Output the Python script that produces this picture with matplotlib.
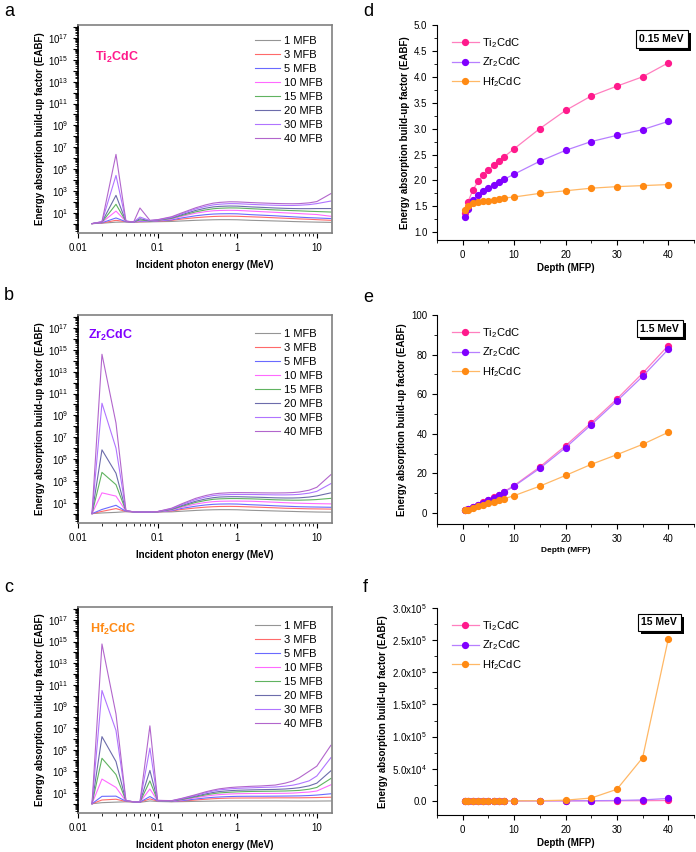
import numpy as np
import matplotlib
matplotlib.use("Agg")
import matplotlib.pyplot as plt
from matplotlib import ticker, patheffects

plt.rcParams['font.family'] = ['Liberation Sans', 'DejaVu Sans']
plt.rcParams['mathtext.fontset'] = 'custom'
plt.rcParams['mathtext.rm'] = 'Liberation Sans'
plt.rcParams['mathtext.bf'] = 'Liberation Sans:bold'
plt.rcParams['mathtext.default'] = 'regular'

# ---- left panels: EABF vs energy for each depth ----
energy = [0.015, 0.02, 0.03, 0.04, 0.05, 0.06, 0.08, 0.1, 0.15, 0.2, 0.3, 0.4, 0.5,
          0.6, 0.8, 1, 1.5, 2, 3, 4, 5, 6, 8, 10, 15]
depth_labels = ['1 MFB', '3 MFB', '5 MFB', '10 MFB', '15 MFB', '20 MFB', '30 MFB', '40 MFB']
depth_colors = ['#959595', '#ff6a6a', '#6a6aff', '#ff6aff', '#60b360', '#6c6cab', '#b074ff', '#b266cc']

ti_eabf = [
    [1.0, 1.1, 1.35, 1.4, 1.35, 1.4, 1.45, 1.5, 1.58, 1.75, 2.0, 2.15, 2.25, 2.3, 2.3, 2.25, 2.0, 1.9, 1.75, 1.65, 1.55, 1.5, 1.42, 1.37, 1.3],
    [1.0, 1.15, 2.0, 1.5, 1.4, 1.5, 1.55, 1.65, 1.98, 2.6, 3.5, 4.1, 4.5, 4.7, 4.8, 4.7, 4.2, 3.9, 3.4, 3.1, 2.9, 2.7, 2.5, 2.3, 2.0],
    [1.0, 1.2, 3.3, 1.5, 1.4, 1.6, 1.6, 1.75, 2.2, 3.3, 5.2, 6.6, 7.5, 7.9, 8.1, 7.9, 6.6, 6.0, 5.2, 4.6, 4.2, 3.9, 3.5, 3.3, 2.9],
    [1.0, 1.3, 14, 1.6, 1.4, 1.8, 1.7, 1.9, 2.61, 4.6, 9.0, 12.5, 15, 16, 16.6, 16.2, 13.9, 12.5, 10.8, 9.7, 8.9, 8.3, 7.4, 6.8, 4.7],
    [1.0, 1.35, 59, 1.6, 1.4, 2.2, 1.7, 2.0, 3.0, 5.5, 12, 18, 23, 25.5, 27.5, 27, 23.3, 21, 18, 16.5, 15.5, 14.8, 13.5, 12.8, 11.5],
    [1.0, 1.4, 390, 1.6, 1.4, 2.8, 1.8, 2.1, 3.35, 6.5, 16, 26, 34, 38, 41, 40, 34, 31, 27, 25, 24, 23.5, 23.5, 24, 24],
    [1.0, 1.5, 2.6e4, 1.7, 1.4, 4.0, 1.9, 2.2, 3.82, 8.0, 22, 38, 52, 60, 68, 67, 57.6, 53, 48, 46, 46, 48, 55, 68, 117],
    [1.0, 1.5, 2.2e6, 1.7, 1.4, 27, 2.0, 2.3, 4.27, 9.5, 28, 52, 75, 88, 100, 98, 84.6, 78, 70, 67, 66, 68, 80, 105, 560],
]

zr_eabf = [
    [1.0, 1.15, 1.3, 1.5, 1.45, 1.4, 1.38, 1.4, 1.45, 1.65, 1.95, 2.15, 2.25, 2.3, 2.3, 2.25, 2.0, 1.9, 1.75, 1.65, 1.58, 1.52, 1.45, 1.4, 1.35],
    [1.0, 1.6, 2.9, 1.55, 1.45, 1.4, 1.4, 1.45, 1.72, 2.4, 3.3, 3.9, 4.3, 4.5, 4.6, 4.5, 4.1, 3.8, 3.4, 3.1, 3.0, 2.9, 2.75, 2.7, 2.6],
    [1.0, 2.4, 5.8, 1.6, 1.45, 1.4, 1.4, 1.45, 1.86, 3.0, 4.8, 6.2, 7.1, 7.5, 7.7, 7.5, 6.5, 6.0, 5.2, 4.8, 4.5, 4.3, 4.1, 4.0, 3.8],
    [1.0, 80, 40, 1.7, 1.45, 1.4, 1.4, 1.45, 2.12, 3.8, 7.5, 10.5, 12.5, 13.5, 14, 14, 13.6, 12.5, 11, 10, 9.4, 9.0, 8.5, 8.2, 7.8],
    [1.0, 6e3, 450, 1.75, 1.45, 1.4, 1.4, 1.5, 2.37, 4.6, 10.5, 16, 20.5, 22.5, 24, 24, 22.6, 21, 18.5, 17.5, 17, 17, 18, 19.5, 25],
    [1.0, 7e5, 5e3, 1.8, 1.45, 1.4, 1.4, 1.5, 2.58, 5.4, 13.5, 22, 29, 33, 35.5, 35.5, 33, 31, 28, 27, 27, 28, 33, 42, 80],
    [1.0, 1.3e10, 1e6, 1.85, 1.45, 1.4, 1.4, 1.55, 2.87, 6.6, 19, 33, 45, 51, 56, 57, 56.6, 55, 52, 52, 54, 58, 75, 110, 560],
    [1.0, 4e14, 2e8, 1.9, 1.45, 1.4, 1.4, 1.55, 3.14, 7.8, 25, 45, 63, 73, 82, 84, 82.7, 80, 78, 80, 85, 95, 140, 260, 3700],
]

hf_eabf = [
    [1.0, 1.25, 1.4, 1.5, 1.45, 1.35, 1.8, 1.6, 1.5, 1.55, 1.65, 1.7, 1.75, 1.78, 1.8, 1.8, 1.8, 1.8, 1.8, 1.78, 1.76, 1.75, 1.75, 1.76, 1.8],
    [1.0, 2.2, 2.6, 1.6, 1.5, 1.4, 2.8, 1.75, 1.58, 1.75, 2.2, 2.6, 2.9, 3.1, 3.3, 3.35, 3.4, 3.4, 3.5, 3.5, 3.5, 3.5, 3.6, 3.7, 4.0],
    [1.0, 4.8, 5.0, 1.7, 1.5, 1.4, 4.6, 1.8, 1.61, 1.9, 2.7, 3.4, 3.9, 4.2, 4.6, 4.8, 4.9, 4.9, 5.0, 5.1, 5.2, 5.3, 5.7, 6.3, 8.3],
    [1.0, 190, 32, 1.75, 1.5, 1.4, 23, 1.85, 1.68, 2.2, 3.6, 5.0, 6.2, 7.0, 7.9, 8.4, 8.8, 8.9, 9.0, 9.2, 9.6, 10.5, 12, 15, 56],
    [1.0, 1.6e4, 500, 1.8, 1.5, 1.4, 130, 1.9, 1.75, 2.4, 4.3, 6.5, 8.5, 10, 11.5, 12.5, 13.6, 14, 14.5, 15, 16, 17, 22, 32, 215],
    [1.0, 1.6e6, 8e3, 1.85, 1.5, 1.4, 1.2e3, 1.95, 1.80, 2.6, 5.0, 8.0, 11, 13.5, 16, 17.5, 19.0, 20, 21, 23, 26, 30, 45, 80, 1100],
    [1.0, 3e10, 6e6, 1.9, 1.5, 1.4, 1.4e5, 2.0, 1.88, 2.9, 6.0, 10.5, 15, 19, 23.5, 26.5, 29.5, 32, 35, 42, 52, 70, 130, 370, 1.8e4],
    [1.0, 6e14, 2e8, 1.95, 1.5, 1.4, 1.6e7, 2.05, 1.92, 3.1, 6.8, 12.5, 18.5, 24, 31, 35, 40.8, 44, 53, 80, 126, 250, 1000, 3000, 2.52e5],
]

# ---- right panels: EABF vs depth ----
depth = [0.5, 1, 2, 3, 4, 5, 6, 7, 8, 10, 15, 20, 25, 30, 35, 40]
materials = [r'Ti$_2$CdC', r'Zr$_2$CdC', r'Hf$_2$CdC']
mat_colors = ['#ff1a8c', '#8000ff', '#ff8a14']
line_colors = ['#ff7fbf', '#b77fff', '#ffb866']

ti_015 = [1.38, 1.58, 1.82, 1.98, 2.10, 2.20, 2.29, 2.37, 2.45, 2.61, 3.00, 3.35, 3.63, 3.82, 4.00, 4.27]
zr_015 = [1.30, 1.45, 1.62, 1.72, 1.79, 1.86, 1.91, 1.97, 2.02, 2.12, 2.37, 2.58, 2.75, 2.87, 2.98, 3.14]
hf_015 = [1.42, 1.50, 1.56, 1.58, 1.60, 1.61, 1.63, 1.64, 1.66, 1.68, 1.75, 1.80, 1.85, 1.88, 1.90, 1.92]

ti_15 = [1.5, 2.0, 3.0, 4.2, 5.4, 6.6, 7.9, 9.3, 10.8, 13.9, 23.3, 34.0, 45.6, 57.6, 70.6, 84.6]
zr_15 = [1.5, 2.0, 3.0, 4.1, 5.3, 6.5, 7.8, 9.1, 10.5, 13.6, 22.6, 33.0, 44.6, 56.6, 69.0, 82.7]
hf_15 = [1.4, 1.8, 2.6, 3.4, 4.2, 4.9, 5.6, 6.4, 7.2, 8.8, 13.6, 19.0, 24.6, 29.5, 34.7, 40.8]

ti_150 = [1.1, 1.3, 1.6, 2.0, 2.3, 2.9, 3.4, 4.0, 4.7, 6.8, 11.5, 24, 50, 117, 250, 560]
zr_150 = [1.2, 1.35, 1.9, 2.6, 3.2, 3.8, 4.5, 5.3, 6.2, 7.8, 25, 80, 220, 560, 1500, 3700]
hf_150 = [1.4, 1.8, 3.0, 4.0, 5.5, 8.3, 12, 17, 23, 56, 215, 1100, 4400, 1.8e4, 6.7e4, 2.52e5]

W, H = 696.0, 852.0


def ax_rect(left, right, top, bottom):
    return [left / W, 1 - bottom / H, (right - left) / W, (bottom - top) / H]


def log_label(v, pos):
    if v <= 0:
        return ''
    e = int(round(np.log10(v)))
    if e % 2 == 1:
        return r'$10^{%d}$' % e
    return ''


def energyPanel(fig, rect, data, title, title_color, title_xy, leg_y):
    ax = fig.add_axes(rect)
    for vals, lab, col in zip(data, depth_labels, depth_colors):
        ax.plot(energy, vals, color=col, lw=0.8, label=lab)
    ax.set_xscale('log')
    ax.set_yscale('log')
    ax.set_xlim(0.01, 15.5)
    ax.set_ylim(10 ** -0.86, 10 ** 18.2)
    ax.yaxis.set_major_locator(ticker.LogLocator(base=10, subs=(1.0,), numticks=40))
    ax.yaxis.set_minor_locator(ticker.LogLocator(base=10, subs=np.arange(2, 10), numticks=40))
    ax.yaxis.set_major_formatter(ticker.FuncFormatter(log_label))
    ax.yaxis.set_minor_formatter(ticker.NullFormatter())
    ax.xaxis.set_major_formatter(ticker.FuncFormatter(lambda v, p: '%g' % v))
    ax.tick_params(which='both', direction='out', labelsize=7, colors='black')
    ax.tick_params(which='major', length=3.5, width=0.8)
    ax.tick_params(which='minor', length=2, width=0.6)
    for s in ['top', 'right', 'bottom']:
        ax.spines[s].set_color('#808080')
        ax.spines[s].set_linewidth(1.2)
    ax.spines['left'].set_color('black')
    ax.spines['left'].set_linewidth(1.2)
    ax.set_xlabel('Incident photon energy (MeV)', fontsize=7, fontweight='bold', labelpad=5)
    ax.set_ylabel('Energy absorption build-up factor (EABF)', fontsize=7, fontweight='bold', labelpad=2)
    ax.text(title_xy[0], title_xy[1], title, transform=ax.transAxes, color=title_color,
            fontsize=9, fontweight='bold', ha='left', va='center')
    ax.legend(loc='upper right', bbox_to_anchor=(1.0, leg_y), frameon=False, fontsize=8,
              handlelength=2.3, handletextpad=0.35, labelspacing=0.36, borderaxespad=0.4)
    return ax


def depthPanel(fig, rect, series, ylim, ystep, energy_text, text_xy, sci=False, xlabel_size=7):
    ax = fig.add_axes(rect)
    for vals, lab, mc, lc in zip(series, materials, mat_colors, line_colors):
        ax.plot(depth, vals, '-', color=lc, lw=0.9, marker='o', markersize=4.2,
                markerfacecolor=mc, markeredgecolor=mc, label=lab)
    ax.set_xlim(-5, 45)
    ax.set_ylim(*ylim)
    ax.xaxis.set_major_locator(ticker.MultipleLocator(10))
    ax.xaxis.set_minor_locator(ticker.MultipleLocator(5))
    ax.yaxis.set_major_locator(ticker.MultipleLocator(ystep))
    ax.yaxis.set_minor_locator(ticker.MultipleLocator(ystep / 2))
    if sci:
        def fmt(v, p):
            if abs(v) < 1e-9:
                return '0.0'
            e = int(np.floor(np.log10(abs(v))))
            return r'%.1fx10$^{%d}$' % (v / 10 ** e, e)
        ax.yaxis.set_major_formatter(ticker.FuncFormatter(fmt))
    elif ystep < 1:
        ax.yaxis.set_major_formatter(ticker.FormatStrFormatter('%.1f'))
    ax.spines['top'].set_visible(False)
    ax.spines['right'].set_visible(False)
    ax.spines['left'].set_linewidth(0.8)
    ax.spines['bottom'].set_linewidth(0.8)
    ax.tick_params(which='both', direction='out', labelsize=7)
    ax.tick_params(which='major', length=3.5, width=0.8)
    ax.tick_params(which='minor', length=2, width=0.6)
    ax.set_xlabel('Depth (MFP)', fontsize=xlabel_size, fontweight='bold', labelpad=2)
    ax.set_ylabel('Energy absorption build-up factor (EABF)', fontsize=7, fontweight='bold', labelpad=3)
    ax.legend(loc='upper left', bbox_to_anchor=(0.02, 0.995), frameon=False, fontsize=8,
              handlelength=2.4, handletextpad=0.3, labelspacing=0.5, numpoints=1)
    # energy box with a drop shadow
    t = ax.text(text_xy[0], text_xy[1], energy_text, transform=ax.transAxes, fontsize=7.5,
                fontweight='bold', ha='center', va='center', color='black',
                bbox=dict(boxstyle='square,pad=0.35', fc='white', ec='black', lw=0.8))
    t.get_bbox_patch().set_path_effects([
        patheffects.SimplePatchShadow(offset=(2.2, -2.2), shadow_rgbFace='black', alpha=1.0),
        patheffects.Normal()])
    return ax


def makeFigure():
    fig = plt.figure(figsize=(6.96, 8.52), dpi=100)

    energyPanel(fig, ax_rect(78, 332, 25, 233), ti_eabf, r'Ti$_\mathbf{2}$CdC', '#ff1a8c',
                (0.067, 0.846), 0.99)
    energyPanel(fig, ax_rect(78, 332, 315, 523), zr_eabf, r'Zr$_\mathbf{2}$CdC', '#8000ff',
                (0.04, 0.904), 0.975)
    energyPanel(fig, ax_rect(78, 332, 607, 813), hf_eabf, r'Hf$_\mathbf{2}$CdC', '#ff8a14',
                (0.047, 0.889), 0.975)

    depthPanel(fig, ax_rect(437, 694, 25, 240), [ti_015, zr_015, hf_015], (0.85, 5.0), 0.5,
               '0.15 MeV', (0.874, 0.935))
    depthPanel(fig, ax_rect(437, 694, 315, 524), [ti_15, zr_15, hf_15], (-5.5, 100), 20,
               '1.5 MeV', (0.866, 0.934), xlabel_size=6)
    depthPanel(fig, ax_rect(437, 694, 608, 815), [ti_150, zr_150, hf_150], (-2.2e4, 3.0e5), 5e4,
               '15 MeV', (0.865, 0.93), sci=True)

    for lab, x, y in [('a', 4, 12), ('b', 4, 296), ('c', 4, 588),
                      ('d', 363, 12), ('e', 363, 297), ('f', 363, 588)]:
        fig.text(x / W, 1 - y / H, lab, fontsize=13, ha='left', va='center')

    fig.savefig('out.png', dpi=100)


makeFigure()
